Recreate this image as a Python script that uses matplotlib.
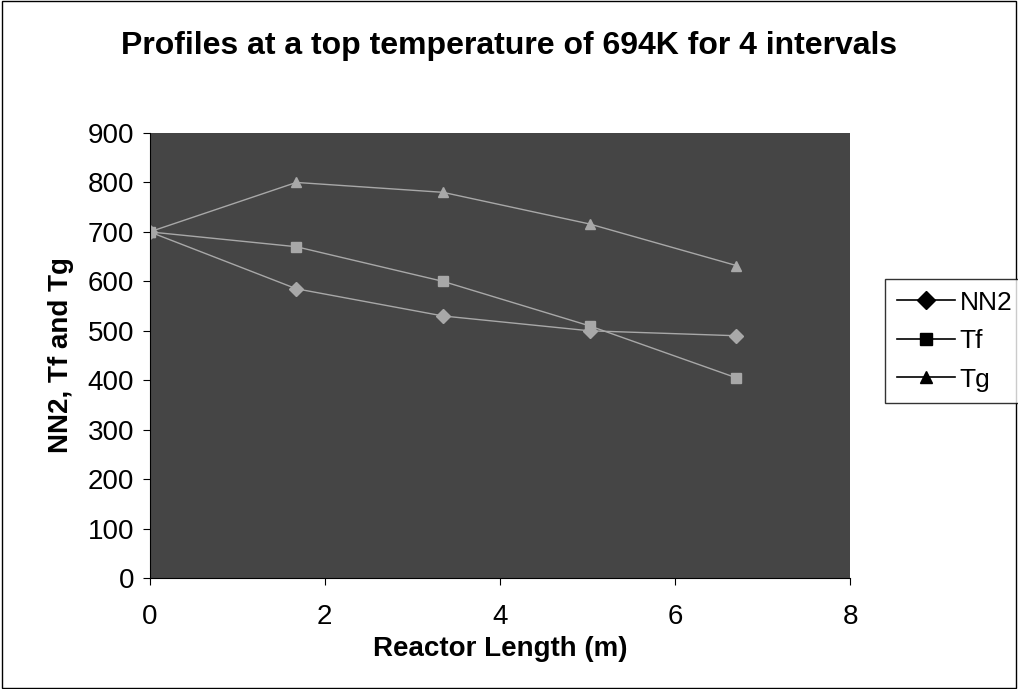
import matplotlib.pyplot as plt
from matplotlib.lines import Line2D
from matplotlib.patches import Rectangle

plt.rcParams['font.family'] = ['Liberation Sans', 'DejaVu Sans']

# reactor length (m) at the 4 interval boundaries
length = [0, 1.675, 3.35, 5.025, 6.7]
nn2 = [700, 585, 530, 500, 490]
tf = [700, 670, 600, 510, 405]
tg = [700, 800, 780, 716, 632]

series = [("NN2", nn2, "D"), ("Tf", tf, "s"), ("Tg", tg, "^")]

fig = plt.figure(figsize=(10.18, 6.89), dpi=100)
ax = fig.add_axes([0.147, 0.161, 0.688, 0.646])
ax.set_facecolor('#454545')

for name, vals, mk in series:
    ax.plot(length, vals, color='#a8a8a8', lw=1.0, marker=mk, ms=7,
            mfc='#a8a8a8', mec='#a8a8a8')

ax.set_xlim(0, 8)
ax.set_ylim(0, 900)
ax.set_xticks([0, 2, 4, 6, 8])
ax.set_yticks(range(0, 901, 100))
ax.tick_params(labelsize=20, direction='out', length=5, pad=6)
ax.tick_params(axis='x', pad=14)
for s in ['top', 'right']:
    ax.spines[s].set_visible(False)

ax.set_xlabel('Reactor Length (m)', fontsize=20, fontweight='bold', labelpad=4)
ax.set_ylabel('NN2, Tf and Tg', fontsize=20, fontweight='bold', labelpad=10)
fig.suptitle('Profiles at a top temperature of 694K for 4 intervals',
             fontsize=23, fontweight='bold', y=0.955)

handles = [Line2D([], [], color='black', lw=1.2, marker=mk, ms=9)
           for _, _, mk in series]
leg = fig.legend(handles, [n for n, _, _ in series], loc='center left',
                 bbox_to_anchor=(0.869, 0.505), fontsize=19, frameon=True,
                 fancybox=False, edgecolor='black', handlelength=2.2,
                 handletextpad=0.2, borderpad=0.45, labelspacing=0.55,
                 borderaxespad=0)
leg.get_frame().set_linewidth(1.0)

fig.patches.append(Rectangle((0.002, 0.002), 0.996, 0.996, transform=fig.transFigure,
                             fill=False, edgecolor='black', lw=1.0))

fig.savefig('out.png', dpi=100)
